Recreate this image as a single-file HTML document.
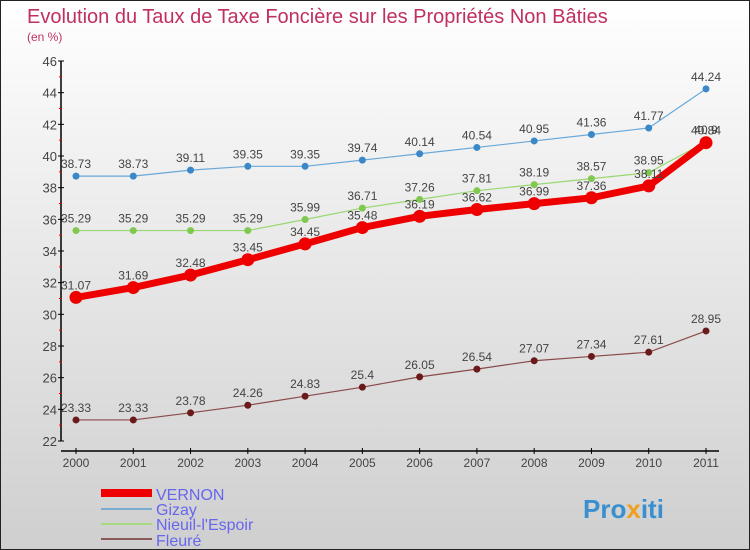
<!DOCTYPE html>
<html><head><meta charset="utf-8"><style>
body{margin:0}
#c{position:relative;width:748px;height:548px;border:1px solid #222;background:linear-gradient(#fff,#f0f0f0 30%,#cfcfcf);font-family:"Liberation Sans",sans-serif;overflow:hidden}
</style></head><body>
<div id="c">
<svg width="748" height="548" id="s">
<text x="26" y="22" font-size="20" fill="#c0305e">Evolution du Taux de Taxe Foncière sur les Propriétés Non Bâties</text>
<text x="26" y="40" font-size="12" fill="#c0305e">(en %)</text>
<g id="ax"></g><g id="ser"></g>
<g>
<rect x="100" y="488" width="51" height="8" fill="#e00"/>
<text x="155" y="499" font-size="16" fill="#6666ee">VERNON</text>
<rect x="100" y="507" width="51" height="2" fill="#7aaed0"/>
<text x="155" y="514" font-size="16" fill="#6666ee">Gizay</text>
<rect x="100" y="522" width="51" height="2" fill="#a8d880"/>
<text x="155" y="529" font-size="16" fill="#6666ee">Nieuil-l'Espoir</text>
<rect x="100" y="537" width="51" height="2" fill="#8a5a5a"/>
<text x="155" y="545" font-size="16" fill="#6666ee">Fleuré</text>
</g>
<text x="582" y="517" font-size="26" font-weight="bold" fill="#3a8fd0">Pro<tspan fill="#f0a020">x</tspan>iti</text>
</svg></div>
<script>
const years=["2000","2001","2002","2003","2004","2005","2006","2007","2008","2009","2010","2011"];
const yTicks=[22,24,26,28,30,32,34,36,38,40,42,44,46];
const vernon=[31.07,31.69,32.48,33.45,34.45,35.48,36.19,36.62,36.99,37.36,38.11,40.84];
const gizay=[38.73,38.73,39.11,39.35,39.35,39.74,40.14,40.54,40.95,41.36,41.77,44.24];
const nieuil=[35.29,35.29,35.29,35.29,35.99,36.71,37.26,37.81,38.19,38.57,38.95,40.9];
const fleure=[23.33,23.33,23.78,24.26,24.83,25.4,26.05,26.54,27.07,27.34,27.61,28.95];
const NS="http://www.w3.org/2000/svg";
const X=i=>75+i*(630/11);
const Y=v=>440-(v-22)*(380/24);
function mk(t,a,p){const e=document.createElementNS(NS,t);for(const k in a)e.setAttribute(k,a[k]);p.appendChild(e);return e;}
const ax=document.getElementById('ax');
let l=mk('line',{x1:60,y1:60,x2:60,y2:440,stroke:'#000','stroke-width':1.5},ax);


l=mk('line',{x1:60,y1:450,x2:718,y2:450,stroke:'#000','stroke-width':1.5},ax);


yTicks.forEach((v,i)=>{
 mk('line',{x1:57,y1:Y(v),x2:63,y2:Y(v),stroke:'#000'},ax);
 if(i<yTicks.length-1)mk('line',{x1:58,y1:Y(v+1),x2:61,y2:Y(v+1),stroke:'#e00'},ax);
 const t=mk('text',{x:56,y:Y(v)+5,'text-anchor':'end','font-size':13,fill:'#444'},ax);t.textContent=v;
 
 
});
years.forEach((y,i)=>{
 mk('line',{x1:X(i),y1:447,x2:X(i),y2:453,stroke:'#000'},ax);
 const t=mk('text',{x:X(i),y:466,'text-anchor':'middle','font-size':12,fill:'#444'},ax);t.textContent=y;
 
 
});
const ser=document.getElementById('ser');
function draw(d,name,lc,pc,w,r){
 const g=mk('g',{},ser);
 
 
 const p=mk('polyline',{points:d.map((v,i)=>X(i)+','+Y(v)).join(' '),fill:'none',stroke:lc,'stroke-width':w},g);
 
 
 d.forEach((v,i)=>{
  const c=mk('circle',{cx:X(i),cy:Y(v),r:r,fill:pc},g);
  
  
  const t=mk('text',{x:X(i),y:Y(v)-8,'text-anchor':'middle','font-size':12,fill:'#444'},g);t.textContent=v;
  
  
 });
}
draw(fleure,'fleure','#8a4a4a','#6a1a1a',1.2,3.5);
draw(gizay,'gizay','#6aa8d8','#3a88c8',1.2,3.5);
draw(nieuil,'nieuil','#98d870','#80c850',1.2,3.5);
draw(vernon,'vernon','#ee0000','#ee0000',7,6.5);
</script>
</body></html>
